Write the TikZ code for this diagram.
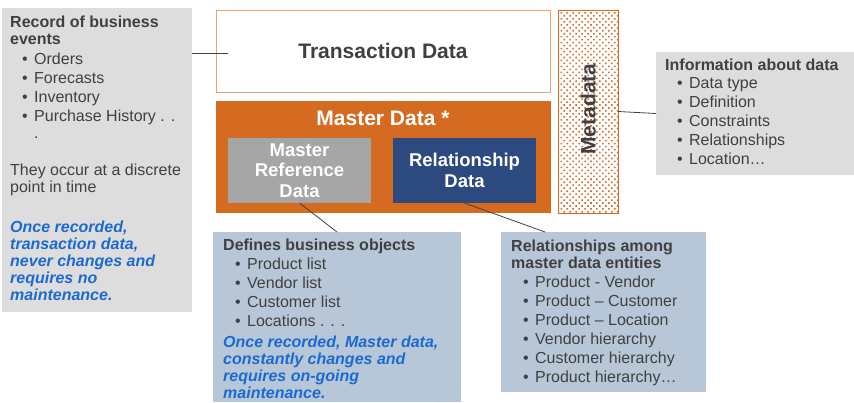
\documentclass[tikz,border=0pt]{standalone}
\usepackage{fontspec}
\setmainfont{Liberation Sans}
\usetikzlibrary{calc}
\usetikzlibrary{patterns.meta}

\definecolor{txtgray}{HTML}{404040}
\definecolor{boxgray}{HTML}{DDDDDD}
\definecolor{boxblue}{HTML}{B8C7D7}
\definecolor{mdorange}{HTML}{D46B21}
\definecolor{lightorange}{HTML}{EBA36B}
\definecolor{refgray}{HTML}{A6A6A6}
\definecolor{relnavy}{HTML}{2C4A80}
\definecolor{noteblue}{HTML}{1A6AD2}

\newcommand{\bitem}[1]{\hspace*{12pt}\makebox[12pt][l]{\textbullet}#1}

\begin{document}
\begin{tikzpicture}[x=1pt, y=-1pt,
  box/.style={anchor=north west, inner sep=0pt, outer sep=0pt},
  txt/.style={anchor=north west, inner sep=0pt, align=left, text=txtgray, font=\fontsize{16}{17}\selectfont},
  blue/.style={txt, text=noteblue, font=\fontsize{16}{17}\selectfont\bfseries\itshape},
  title/.style={font=\fontsize{21}{23}\selectfont\bfseries},
  sub/.style={box, anchor=center, text=white, align=center, font=\fontsize{18.5}{20.5}\selectfont\bfseries},
  link/.style={txtgray, line width=.8pt}]

\useasboundingbox (0,0) rectangle (854,402);

% boxes
\node[box, fill=boxgray, minimum width=190, minimum height=304] (rec) at (2,8) {};
\node[box, draw=lightorange, line width=.8pt, minimum width=334, minimum height=82] (tx) at (216,10) {};
\node[box, fill=mdorange, minimum width=335, minimum height=112] (master) at (216,101) {};
\node[box, draw=mdorange, line width=.8pt, pattern={Dots[distance=4.2pt, angle=45, radius=1.1pt]}, pattern color=mdorange, minimum width=60, minimum height=203] (meta) at (558,10) {};
\node[box, fill=boxgray, minimum width=198, minimum height=123] (info) at (656,52) {};
\node[box, fill=boxblue, minimum width=248, minimum height=170] (defs) at (213,232) {};
\node[box, fill=boxblue, minimum width=205, minimum height=160] (rels) at (501,232) {};

% titles
\node[title, text=txtgray] (txlabel) at (tx.center) {Transaction Data};
\node[title, text=white] (mdlabel) at (383,118) {Master Data *};
\node[sub, fill=refgray, minimum width=143, minimum height=65] (mref) at (299.5,170.5) {Master\\Reference\\Data};
\node[sub, fill=relnavy, minimum width=143, minimum height=65] (rdata) at (464.5,170.5) {Relationship\\Data};
\node[title, text=txtgray, rotate=90] (metalabel) at (588,109) {Metadata};

% left notes
\node[txt] (reclist) at (10,16) {\textbf{Record of business}\\\textbf{events}\\[3pt]
  \bitem{Orders}\\[2pt]\bitem{Forecasts}\\[2pt]\bitem{Inventory}\\[2pt]
  \bitem{Purchase History . .}\\\hspace*{24pt}.};
\node[txt] (recnote) at (10,164) {They occur at a discrete\\point in time};
\node[blue] (recblue) at (10,221) {Once recorded,\\transaction data,\\never changes and\\requires no\\maintenance.};

% metadata notes
\node[txt] (infolist) at (665,59) {\textbf{Information about data}\\[1pt]
  \bitem{Data type}\\[2pt]\bitem{Definition}\\[2pt]\bitem{Constraints}\\[2pt]
  \bitem{Relationships}\\[2pt]\bitem{Location\dots}};

% master data notes
\node[txt] (defslist) at (223,239) {\textbf{Defines business objects}\\[2pt]
  \bitem{Product list}\\[2pt]\bitem{Vendor list}\\[2pt]\bitem{Customer list}\\[2pt]
  \bitem{Locations . . .}};
\node[blue] (defsblue) at (223,336) {Once recorded, Master data,\\constantly changes and\\requires on-going\\maintenance.};
\node[txt] (relslist) at (511,240) {\textbf{Relationships among}\\\textbf{master data entities}\\[2pt]
  \bitem{Product - Vendor}\\[2pt]\bitem{Product -- Customer}\\[2pt]\bitem{Product -- Location}\\[2pt]
  \bitem{Vendor hierarchy}\\[2pt]\bitem{Customer hierarchy}\\[2pt]\bitem{Product hierarchy\dots}};

% connectors
\coordinate (txin) at (228,53);
\draw[link] (rec.east |- txin) -- (txin);
\draw[link] (meta.east) -- (info.west);
\draw[link] (mref.south) -- ($(defs.north west)+(124,0)$);
\draw[link] (rdata.south) -- ($(rels.north west)+(44,0)$);

\end{tikzpicture}
\end{document}
